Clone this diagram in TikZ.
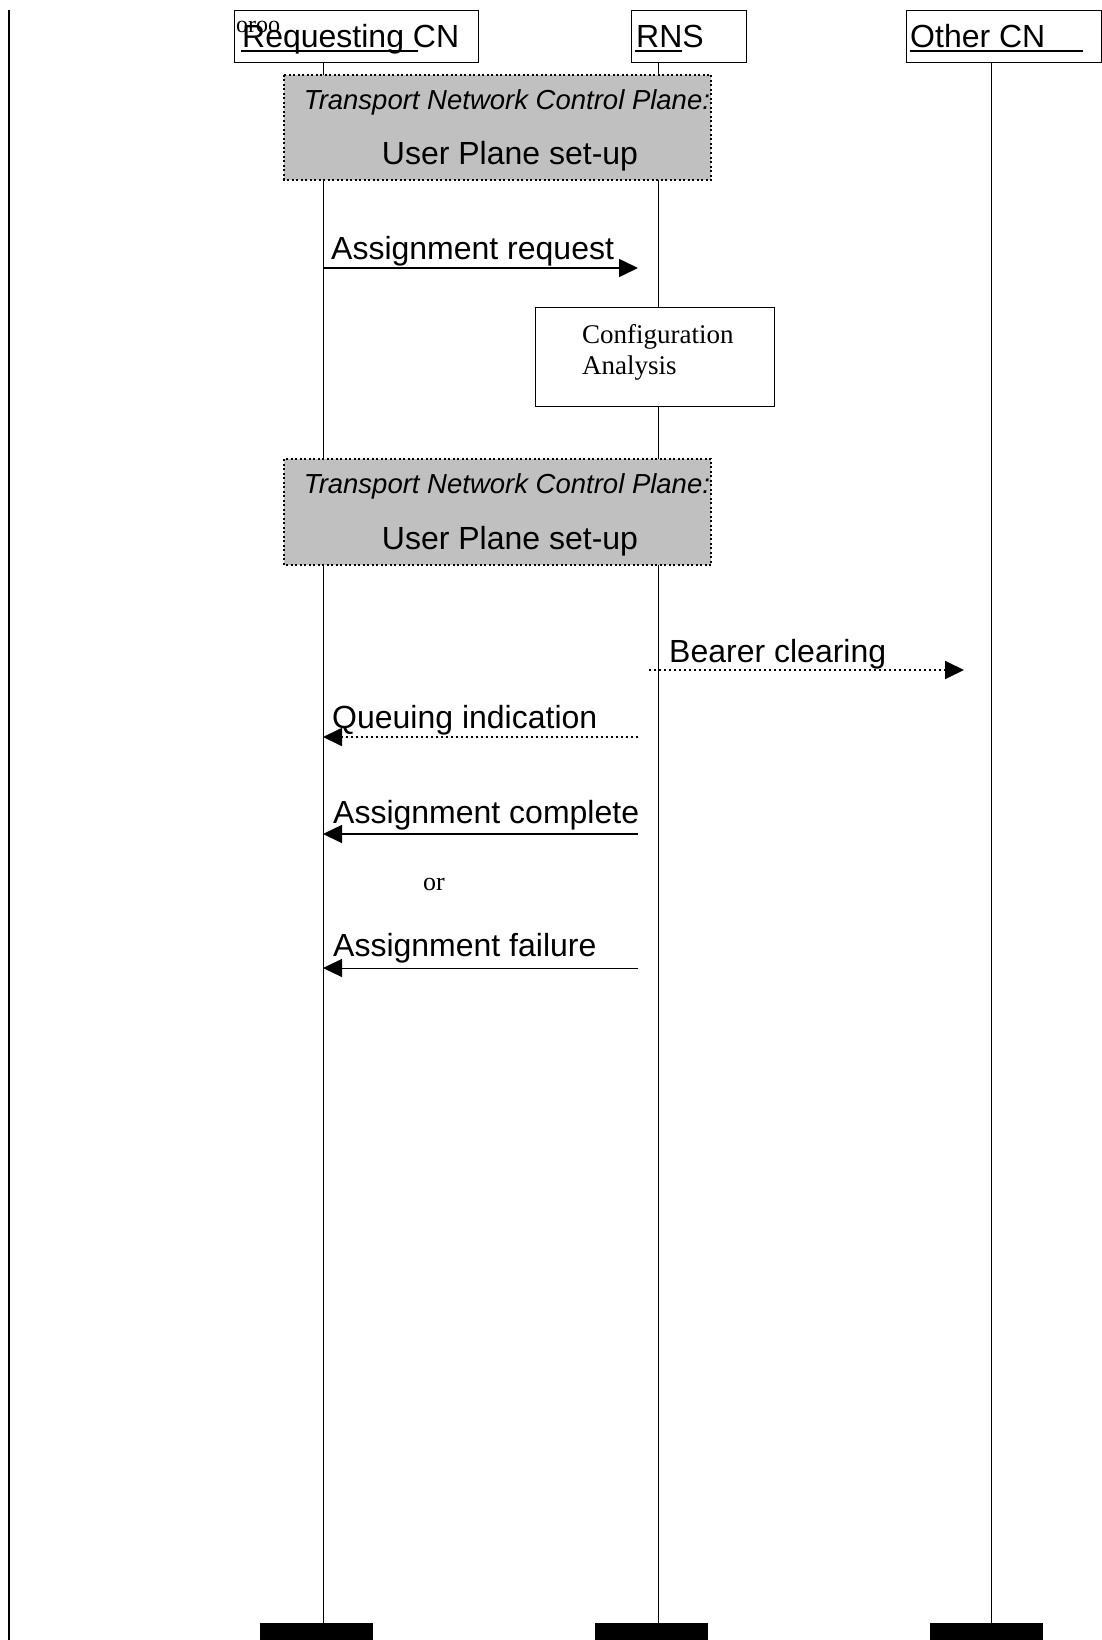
\documentclass[tikz,border=0pt]{standalone}
\usepackage{fontspec}
\setmainfont{Liberation Serif}
\newfontfamily\arialfont{Liberation Sans}
\usetikzlibrary{arrows.meta}
\definecolor{planegray}{HTML}{C0C0C0}
\tikzset{
  lbl/.style={font=\arialfont\fontsize{32}{38}\selectfont, inner sep=0pt, anchor=base west},
  itl/.style={font=\arialfont\itshape\fontsize{27.5}{32}\selectfont, inner sep=0pt, anchor=base},
  upl/.style={font=\arialfont\fontsize{32}{38}\selectfont, inner sep=0pt, anchor=base},
  serif/.style={font=\fontsize{27}{32}\selectfont, inner sep=0pt, anchor=base west},
  hdrbox/.style={draw, line width=0.8pt, fill=white},
  planebox/.style={draw, fill=planegray, line width=1.6pt, dash pattern=on 2pt off 2.5pt},
  lifeline/.style={line width=0.8pt},
  msg/.style={line width=1.5pt, -{Triangle[length=19pt,width=18pt]}},
  optmsg/.style={msg, line width=1.8pt, dash pattern=on 2pt off 3pt},
  endbar/.style={fill=black, draw=none},
  uline/.style={line width=2.5pt},
}
\begin{document}
\begin{tikzpicture}[x=1pt, y=-1pt]
\useasboundingbox (0,0) rectangle (1102,1640);

% frame line on the left
\draw[line width=2.5pt] (9,10) -- (9,1640);

% entity headers
\draw[hdrbox] (234,10) rectangle (478,62);
\draw[hdrbox] (631,10) rectangle (746,62);
\draw[hdrbox] (906,10) rectangle (1101,62);
\node[lbl] (hreq) at (242,48) {Requesting CN};
\node[lbl] (hrns) at (636,48) {RNS};
\node[lbl] (hoth) at (910,48) {Other CN};
\node[font=\fontsize{24}{28}\selectfont, inner sep=0pt, anchor=base west] (tag) at (236,33) {oroo};
\draw[uline] (241,51) -- (418,51);
\draw[uline] (635,51) -- (682,51);
\draw[uline] (910,51) -- (1083,51);

% end bars
\node[endbar, minimum width=113pt, minimum height=17pt, inner sep=0pt] (bar1) at (316.5,1631.5) {};
\node[endbar, minimum width=113pt, minimum height=17pt, inner sep=0pt] (bar2) at (651.5,1631.5) {};
\node[endbar, minimum width=113pt, minimum height=17pt, inner sep=0pt] (bar3) at (986.5,1631.5) {};

% lifelines
\coordinate (reqtop) at (323,62);
\coordinate (rnstop) at (658,62);
\coordinate (othtop) at (991,62);
\draw[lifeline] (reqtop) -- (reqtop |- bar1.north);
\draw[lifeline] (rnstop) -- (rnstop |- bar2.north);
\draw[lifeline] (othtop) -- (othtop |- bar3.north);

% transport network control plane, first set-up
\draw[planebox] (284,75) rectangle (711,180);
\node[itl] (tnc1) at (507,110) {Transport Network Control Plane:};
\node[upl] (ups1) at (510,165) {User Plane set-up};

% assignment request
\coordinate (ar1) at (323,268);
\coordinate (ar2) at (638,268);
\draw[msg] (ar1) -- (ar2);
\node[lbl] (tar) at (331,259) {Assignment request};

% configuration analysis
\draw[hdrbox] (535,307) rectangle (774,406);
\node[serif] (cfg) at (582,343) {Configuration};
\node[serif] (ana) at (582,374) {Analysis};

% transport network control plane, second set-up
\draw[planebox] (284,459) rectangle (711,565);
\node[itl] (tnc2) at (507,493) {Transport Network Control Plane:};
\node[upl] (ups2) at (510,549) {User Plane set-up};

% bearer clearing
\coordinate (bc1) at (649,670);
\coordinate (bc2) at (964,670);
\draw[optmsg] (bc1) -- (bc2);
\node[lbl] (tbc) at (669,662) {Bearer clearing};

% queuing indication
\coordinate (qi1) at (638,737);
\coordinate (qi2) at (323,737);
\draw[optmsg] (qi1) -- (qi2);
\node[lbl] (tqi) at (332,728) {Queuing indication};

% assignment complete
\coordinate (ac1) at (638,834);
\coordinate (ac2) at (323,834);
\draw[msg] (ac1) -- (ac2);
\node[lbl] (tac) at (333,823) {Assignment complete};

\node[serif, font=\fontsize{26}{30}\selectfont] (tor) at (423,890) {or};

% assignment failure
\coordinate (af1) at (638,968);
\coordinate (af2) at (323,968);
\draw[msg, line width=1pt] (af1) -- (af2);
\node[lbl] (taf) at (333,956) {Assignment failure};
\end{tikzpicture}
\end{document}
